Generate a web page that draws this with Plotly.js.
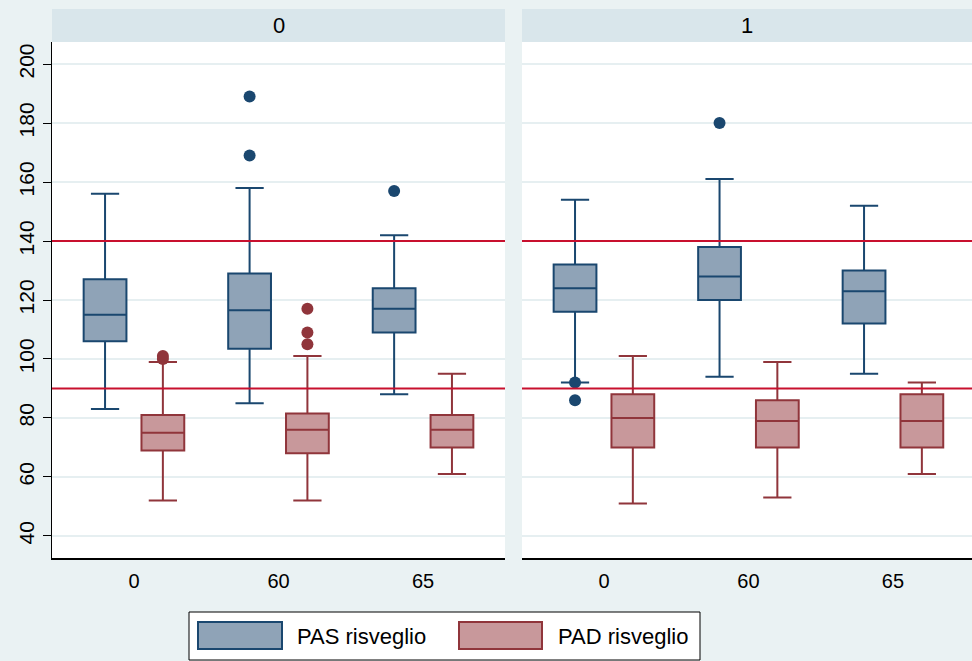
<!DOCTYPE html>
<html>
<head>
<meta charset="utf-8">
<script src="https://cdn.plot.ly/plotly-3.0.1.min.js"></script>
<style>html,body{margin:0;padding:0;background:#eaf2f3;}#chart{width:972px;height:661px;}</style>
</head>
<body>
<div id="chart"></div>
<script>
// Categories and panel labels
var categories = ['0', '60', '65'];
var panelLabels = ['0', '1'];
var seriesNames = ['PAS risveglio', 'PAD risveglio'];
var refLines = [140, 90];
var yTicks = [40, 60, 80, 100, 120, 140, 160, 180, 200];

// Panel 0 - PAS
var pas0Q1 = [106, 103.5, 109];
var pas0Median = [115, 116.5, 117];
var pas0Q3 = [127, 129, 124];
var pas0Lower = [83, 85, 88];
var pas0Upper = [156, 158, 142];
var pas0Outliers = [[null], [189, 169], [157]];
// Panel 0 - PAD
var pad0Q1 = [69, 68, 70];
var pad0Median = [75, 76, 76];
var pad0Q3 = [81, 81.5, 81];
var pad0Lower = [52, 52, 61];
var pad0Upper = [99, 101, 95];
var pad0Outliers = [[101, 100], [117, 109, 105], [null]];
// Panel 1 - PAS
var pas1Q1 = [116, 120, 112];
var pas1Median = [124, 128, 123];
var pas1Q3 = [132, 138, 130];
var pas1Lower = [92, 94, 95];
var pas1Upper = [154, 161, 152];
var pas1Outliers = [[92, 86], [180], [null]];
// Panel 1 - PAD
var pad1Q1 = [70, 70, 70];
var pad1Median = [80, 79, 79];
var pad1Q3 = [88, 86, 88];
var pad1Lower = [51, 53, 61];
var pad1Upper = [101, 99, 92];
var pad1Outliers = [[null], [null], [null]];

var navy = '#1a476f', navyFill = '#8fa3b7';
var maroon = '#90353b', maroonFill = '#c8989b';
var refColor = '#c8102e';
var bg = '#eaf2f3', stripBg = '#d9e6eb';

function boxTrace(name, xa, q1, med, q3, lo, hi, outs, line, fill, og) {
  return {
    type: 'box', name: name, orientation: 'v',
    x: categories, q1: q1, median: med, q3: q3,
    lowerfence: lo, upperfence: hi, y: outs,
    boxpoints: 'all', jitter: 0, pointpos: 0,
    marker: {color: line, size: 12, line: {width: 0}},
    line: {color: line, width: 2},
    fillcolor: fill, whiskerwidth: 0.66,
    xaxis: xa, yaxis: 'y',
    offsetgroup: og, alignmentgroup: xa,
    showlegend: false, hoverinfo: 'skip'
  };
}

var data = [
  boxTrace(seriesNames[0], 'x', pas0Q1, pas0Median, pas0Q3, pas0Lower, pas0Upper, pas0Outliers, navy, navyFill, 'pas'),
  boxTrace(seriesNames[1], 'x', pad0Q1, pad0Median, pad0Q3, pad0Lower, pad0Upper, pad0Outliers, maroon, maroonFill, 'pad'),
  boxTrace(seriesNames[0], 'x2', pas1Q1, pas1Median, pas1Q3, pas1Lower, pas1Upper, pas1Outliers, navy, navyFill, 'pas'),
  boxTrace(seriesNames[1], 'x2', pad1Q1, pad1Median, pad1Q3, pad1Lower, pad1Upper, pad1Outliers, maroon, maroonFill, 'pad')
];

var plotH = 516, plotW = 920;
var stripTop = 1 + 33 / plotH;
var shapes = [];
var annotations = [];
var domains = [[0, 453 / plotW], [470 / plotW, 1]];
// strips
domains.forEach(function (d, i) {
  shapes.push({type: 'rect', xref: 'paper', yref: 'paper', x0: d[0], x1: d[1], y0: 1, y1: stripTop,
    fillcolor: stripBg, line: {width: 0}, layer: 'below'});
  annotations.push({xref: 'paper', yref: 'paper', x: (d[0] + d[1]) / 2, y: (1 + stripTop) / 2,
    text: panelLabels[i], showarrow: false, xanchor: 'center', yanchor: 'middle',
    font: {family: 'Liberation Sans, Arial, sans-serif', size: 22, color: '#000'}});
});
// reference lines
['x', 'x2'].forEach(function (xa) {
  refLines.forEach(function (v) {
    shapes.push({type: 'line', xref: xa + ' domain', yref: 'y', x0: 0, x1: 1, y0: v, y1: v,
      line: {color: refColor, width: 2}, layer: 'above'});
  });
});
// legend (drawn manually)
function px(x) { return (x - 52) / plotW; }
function py(y) { return (558 - y) / plotH; }
shapes.push({type: 'rect', xref: 'paper', yref: 'paper', x0: px(189), x1: px(700), y0: py(660), y1: py(612),
  fillcolor: '#ffffff', line: {color: '#000', width: 1}, layer: 'above'});
var legItems = [
  {x0: 198, x1: 282, tx: 295, fill: navyFill, line: navy},
  {x0: 459, x1: 542, tx: 556, fill: maroonFill, line: maroon}
];
legItems.forEach(function (it, i) {
  shapes.push({type: 'rect', xref: 'paper', yref: 'paper', x0: px(it.x0), x1: px(it.x1), y0: py(649), y1: py(622),
    fillcolor: it.fill, line: {color: it.line, width: 2}, layer: 'above'});
  annotations.push({xref: 'paper', yref: 'paper', x: px(it.tx), y: py(636), text: seriesNames[i],
    showarrow: false, xanchor: 'left', yanchor: 'middle',
    font: {family: 'Liberation Sans, Arial, sans-serif', size: 22, color: '#000'}});
});

var font = {family: 'Liberation Sans, Arial, sans-serif', size: 20, color: '#000'};
var yfont = {family: 'Liberation Sans, Arial, sans-serif', size: 21, color: '#000'};
var xaxisBase = {
  type: 'category', showgrid: false, zeroline: false,
  showline: true, linecolor: '#000', linewidth: 1.5,
  ticks: 'outside', ticklen: 4, tickcolor: 'rgba(0,0,0,0)',
  tickfont: font, anchor: 'y', fixedrange: true
};
var layout = {
  width: 972, height: 661,
  margin: {l: 52, r: 0, t: 42, b: 103, pad: 0},
  paper_bgcolor: bg, plot_bgcolor: '#ffffff',
  boxmode: 'group', boxgap: 0.2, boxgroupgap: 0.26,
  showlegend: false,
  xaxis: Object.assign({}, xaxisBase, {domain: domains[0], range: [-0.567, 2.567]}),
  xaxis2: Object.assign({}, xaxisBase, {domain: domains[1], range: [-0.567, 2.547]}),
  yaxis: {
    range: [32.5, 207.5], tickvals: yTicks, ticktext: yTicks.map(String),
    showgrid: true, gridcolor: '#e6eff1', gridwidth: 1.5, zeroline: false,
    showline: true, linecolor: '#000', linewidth: 1.5,
    ticks: 'outside', ticklen: 8, tickcolor: '#000', tickwidth: 1,
    tickangle: -90, tickfont: yfont, fixedrange: true
  },
  shapes: shapes,
  annotations: annotations
};

Plotly.newPlot('chart', data, layout, {displayModeBar: false, staticPlot: true});
</script>
</body>
</html>
